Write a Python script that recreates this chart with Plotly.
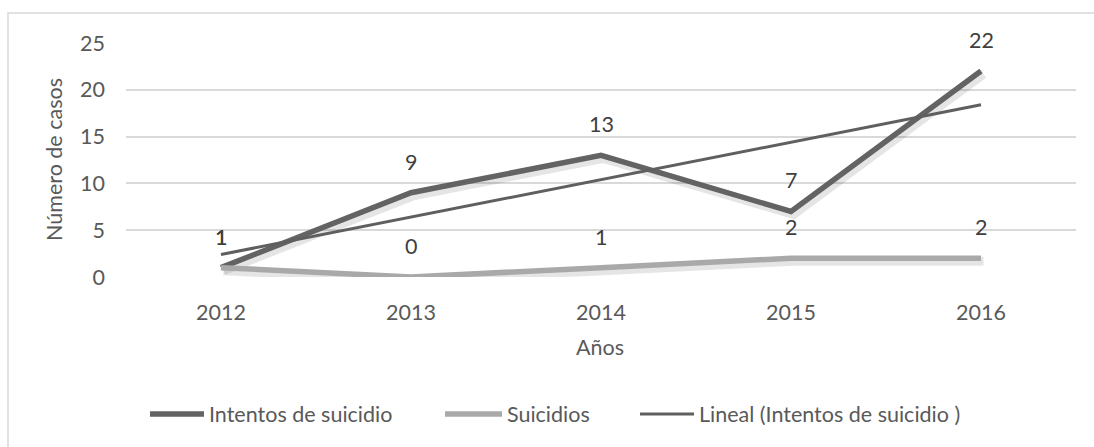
import plotly.graph_objects as go

# Datos
anios = [2012, 2013, 2014, 2015, 2016]
intentos = [1, 9, 13, 7, 22]
suicidios = [1, 0, 1, 2, 2]
tick_y = [0, 5, 10, 15, 20, 25]

# Tendencia lineal (mínimos cuadrados) de los intentos
n = len(anios)
xs = list(range(1, n + 1))
mx = sum(xs) / n
my = sum(intentos) / n
pend = sum((a - mx) * (b - my) for a, b in zip(xs, intentos)) / sum((a - mx) ** 2 for a in xs)
orig = my - pend * mx
tendencia = [orig + pend * a for a in xs]

W, H = 1094, 447
L, R, T, B = 126, 18, 43, 170
pw, ph = W - L - R, H - T - B

FONT = "Lato"
FS = 21.5
TXT = "#595959"

C_INT, C_SUI, C_LIN = "#636363", "#a9a9a9", "#5f5f5f"


def px_x(p):
    return (p - L) / pw


def px_y(p):
    return (T + ph - p) / ph


fig = go.Figure()

# sombras suaves de las series
dx = 2.5 * (5.0 / pw)
dy = 3.0 * (25.0 / ph)
for serie in (suicidios, intentos):
    fig.add_trace(go.Scatter(
        x=[a + dx for a in anios], y=[v - dy for v in serie], mode="lines",
        line=dict(color="rgba(0,0,0,0.10)", width=9),
        hoverinfo="skip", showlegend=False))

fig.add_trace(go.Scatter(
    x=anios, y=intentos, mode="lines", name="Intentos de suicidio",
    line=dict(color=C_INT, width=5.5), showlegend=False))
fig.add_trace(go.Scatter(
    x=anios, y=suicidios, mode="lines", name="Suicidios",
    line=dict(color=C_SUI, width=5.5), showlegend=False))
fig.add_trace(go.Scatter(
    x=anios, y=tendencia, mode="lines", name="Lineal (Intentos de suicidio )",
    line=dict(color=C_LIN, width=3), showlegend=False))

anots = []
for serie in (intentos, suicidios):
    for a, v in zip(anios, serie):
        anots.append(dict(x=a, y=v, text=str(v), showarrow=False, yshift=31,
                          font=dict(family=FONT, size=FS, color="#404040")))

# títulos de ejes
anots.append(dict(xref="paper", yref="paper", x=px_x(600), y=px_y(347),
                  text="Años", showarrow=False, xanchor="center", yanchor="middle",
                  font=dict(family=FONT, size=FS, color=TXT)))
anots.append(dict(xref="paper", yref="paper", x=px_x(54), y=px_y(160),
                  text="Número de casos", showarrow=False, textangle=-90,
                  xanchor="center", yanchor="middle",
                  font=dict(family=FONT, size=FS, color=TXT)))

# leyenda
leyenda = [("Intentos de suicidio", C_INT, 5.5, 150, 204),
           ("Suicidios", C_SUI, 5.5, 445, 502),
           ("Lineal (Intentos de suicidio )", C_LIN, 3, 640, 694)]
formas = [dict(type="rect", xref="paper", yref="paper",
               x0=px_x(8), x1=px_x(W + 40), y0=px_y(H + 40), y1=px_y(13),
               line=dict(color="#d9d9d9", width=1.5), layer="below")]
ly = 414
for nombre, color, ancho, x0, x1 in leyenda:
    formas.append(dict(type="line", xref="paper", yref="paper",
                       x0=px_x(x0), x1=px_x(x1), y0=px_y(ly), y1=px_y(ly),
                       line=dict(color=color, width=ancho)))
    anots.append(dict(xref="paper", yref="paper", x=px_x(x1 + 3), y=px_y(ly),
                      text=nombre, showarrow=False, xanchor="left", yanchor="middle",
                      font=dict(family=FONT, size=FS, color=TXT)))

fig.update_layout(
    width=W, height=H,
    margin=dict(l=L, r=R, t=T, b=B, autoexpand=False),
    paper_bgcolor="white", plot_bgcolor="white",
    font=dict(family=FONT, size=FS, color=TXT),
    showlegend=False,
    annotations=anots,
    shapes=formas,
)

fig.update_xaxes(
    range=[anios[0] - 0.5, anios[-1] + 0.5], tickvals=anios,
    ticktext=[str(a) for a in anios], showgrid=False, zeroline=False,
    showline=False, ticks="", ticklabelstandoff=20,
    tickfont=dict(family=FONT, size=FS, color=TXT), fixedrange=True)
fig.update_yaxes(
    range=[0, 25], tickvals=tick_y, showgrid=True, gridcolor="#d9d9d9",
    gridwidth=1.5, zeroline=False, showline=False, ticks="",
    ticklabelstandoff=20, tickfont=dict(family=FONT, size=FS, color=TXT),
    fixedrange=True)

fig.write_html("out.html", config={"displayModeBar": False})
